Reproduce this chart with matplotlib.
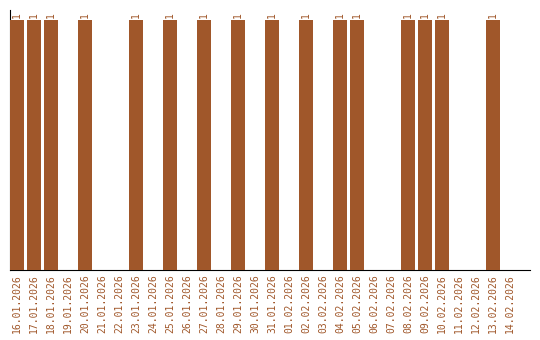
import numpy as np
import matplotlib
matplotlib.use('Agg')
from matplotlib import pyplot as plt

dates = ['16.01.2026', '17.01.2026', '18.01.2026', '19.01.2026', '20.01.2026',
         '21.01.2026', '22.01.2026', '23.01.2026', '24.01.2026', '25.01.2026',
         '26.01.2026', '27.01.2026', '28.01.2026', '29.01.2026', '30.01.2026',
         '31.01.2026', '01.02.2026', '02.02.2026', '03.02.2026', '04.02.2026',
         '05.02.2026', '06.02.2026', '07.02.2026', '08.02.2026', '09.02.2026',
         '10.02.2026', '11.02.2026', '12.02.2026', '13.02.2026', '14.02.2026']
counts = [1, 1, 1, 0, 1, 0, 0, 1, 0, 1,
          0, 1, 0, 1, 0, 1, 0, 1, 0, 1,
          1, 0, 0, 1, 1, 1, 0, 0, 1, 0]

color = '#A0572A'

fig = plt.figure(figsize=(5.4, 3.4), dpi=100)
ax = fig.add_axes([10/540, 70/340, 520/540, 260/340])

x = np.arange(len(dates))
ax.bar(x, counts, width=0.82, color=color, zorder=3)

for xi, c in zip(x, counts):
    if c > 0:
        ax.text(xi, c + 0.008, str(c), rotation=90, ha='center', va='bottom',
                color=color, fontsize=7, family='DejaVu Sans Mono')

ax.set_xlim(-0.41, 30.18)
ax.set_ylim(0, 1.04)
ax.set_xticks(x)
ax.set_xticklabels(dates, rotation=90, color=color, fontsize=7,
                   family='DejaVu Sans Mono')
ax.tick_params(axis='x', length=0, pad=3)
ax.set_yticks([])
ax.spines['top'].set_visible(False)
ax.spines['right'].set_visible(False)
ax.spines['left'].set_color('black')
ax.spines['bottom'].set_color('black')

fig.savefig('out.png', dpi=100)
